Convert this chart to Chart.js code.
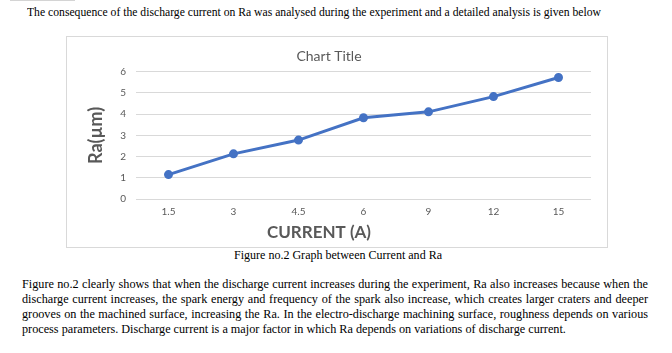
<!DOCTYPE html>
<html>
<head>
<meta charset="utf-8">
<script src="https://cdn.jsdelivr.net/npm/chart.js@4"></script>
<style>
  html, body { margin: 0; padding: 0; background: #fff; }
  body { width: 672px; height: 353px; position: relative; overflow: hidden; font-family: "Liberation Serif", "Times New Roman", serif; color: #000; }
  .txt { position: absolute; white-space: nowrap; font-size: 12px; line-height: 16px; transform-origin: 0 0; }
  .jline { text-align: justify; text-align-last: justify; }
  #chartBox { position: absolute; left: 66px; top: 36px; width: 540px; height: 210px; border: 1px solid #d9d9d9; }
  #topRule { position: absolute; left: 10px; top: 0; width: 65px; height: 1px; background: #d4d4d4; }
</style>
</head>
<body>
<div id="topRule"></div>
<div class="txt" id="intro" style="left:27px; top:4px;">The consequence of the discharge current on Ra was analysed during the experiment and a detailed analysis is given below</div>

<div id="chartBox"><canvas id="raChart" width="540" height="210"></canvas></div>

<div class="txt" id="caption" style="top:247px;">Figure no.2 Graph between Current and Ra</div>

<div id="para">
  <div class="txt jline" style="left:22px; top:276px;">Figure no.2 clearly shows that when the discharge current increases during the experiment, Ra also increases because when the</div>
  <div class="txt jline" style="left:22px; top:291px;">discharge current increases, the spark energy and frequency of the spark also increase, which creates larger craters and deeper</div>
  <div class="txt jline" style="left:22px; top:306px;">grooves on the machined surface, increasing the Ra. In the electro-discharge machining surface, roughness depends on various</div>
  <div class="txt" style="left:22px; top:321px;">process parameters. Discharge current is a major factor in which Ra depends on variations of discharge current.</div>
</div>

<script>
// data
const currents = ['1.5', '3', '4.5', '6', '9', '12', '15'];
const raValues = [1.15, 2.13, 2.78, 3.83, 4.11, 4.83, 5.73];
const yTicks = [0, 1, 2, 3, 4, 5, 6];

const chartTitle = 'Chart Title';
const xTitle = 'CURRENT (A)';
const yTitle = 'Ra(µm)';

// the scanned page text is horizontally squeezed; fit it with scaleX
const paraLines = Array.from(document.querySelectorAll('#para .txt'));
const widest = Math.max(...paraLines.map(el => el.getBoundingClientRect().width));
const paraScale = 620 / widest;
paraLines.forEach(el => {
  if (el.classList.contains('jline')) el.style.width = (626 / paraScale) + 'px';
  el.style.transform = 'scaleX(' + paraScale + ')';
});
const intro = document.getElementById('intro');
intro.style.transform = 'scaleX(' + (574 / intro.getBoundingClientRect().width) + ')';
const cap = document.getElementById('caption');
const capScale = 208 / cap.getBoundingClientRect().width;
cap.style.transform = 'scaleX(' + capScale + ')';
cap.style.left = (338 - 104) + 'px';

const grey = '#595959';
const sans = 'Lato, "Open Sans", sans-serif';

const xTitlePlugin = {
  id: 'xTitle',
  afterDraw(chart) {
    const ctx = chart.ctx;
    ctx.save();
    ctx.font = 'bold 17px ' + sans;
    ctx.fillStyle = grey;
    ctx.textAlign = 'center';
    ctx.textBaseline = 'middle';
    ctx.fillText(xTitle, 252, 196);
    ctx.restore();
  }
};

new Chart(document.getElementById('raChart').getContext('2d'), {
  type: 'line',
  data: {
    labels: currents,
    datasets: [{
      data: raValues,
      borderColor: '#4472C4',
      backgroundColor: '#4472C4',
      borderWidth: 3,
      pointRadius: 3,
      pointHoverRadius: 3,
      tension: 0
    }]
  },
  options: {
    responsive: false,
    animation: false,
    layout: { padding: { left: 0, right: 16, top: 0, bottom: 0 } },
    plugins: {
      legend: { display: false },
      tooltip: { enabled: false },
      title: {
        display: true,
        text: chartTitle,
        color: grey,
        font: { family: sans, size: 14, weight: 'normal' },
        padding: { top: 11, bottom: 7 }
      }
    },
    scales: {
      x: {
        offset: true,
        grid: { display: false, drawTicks: false },
        border: { display: false },
        ticks: { color: grey, font: { family: sans, size: 10 }, padding: 7, maxRotation: 0 },
        afterFit(scale) { scale.height = 48; }
      },
      y: {
        min: 0,
        max: 6,
        afterBuildTicks(scale) { scale.ticks = yTicks.map(v => ({ value: v })); },
        grid: { color: '#d9d9d9', drawTicks: false },
        border: { display: false },
        ticks: { color: grey, font: { family: sans, size: 10 }, padding: 10 },
        title: {
          display: true,
          text: yTitle,
          color: grey,
          font: { family: sans, size: 18, weight: 'bold' },
          padding: { top: 18, bottom: 0 }
        },
        afterFit(scale) { scale.width = 69; }
      }
    }
  },
  plugins: [xTitlePlugin]
});
</script>
</body>
</html>
